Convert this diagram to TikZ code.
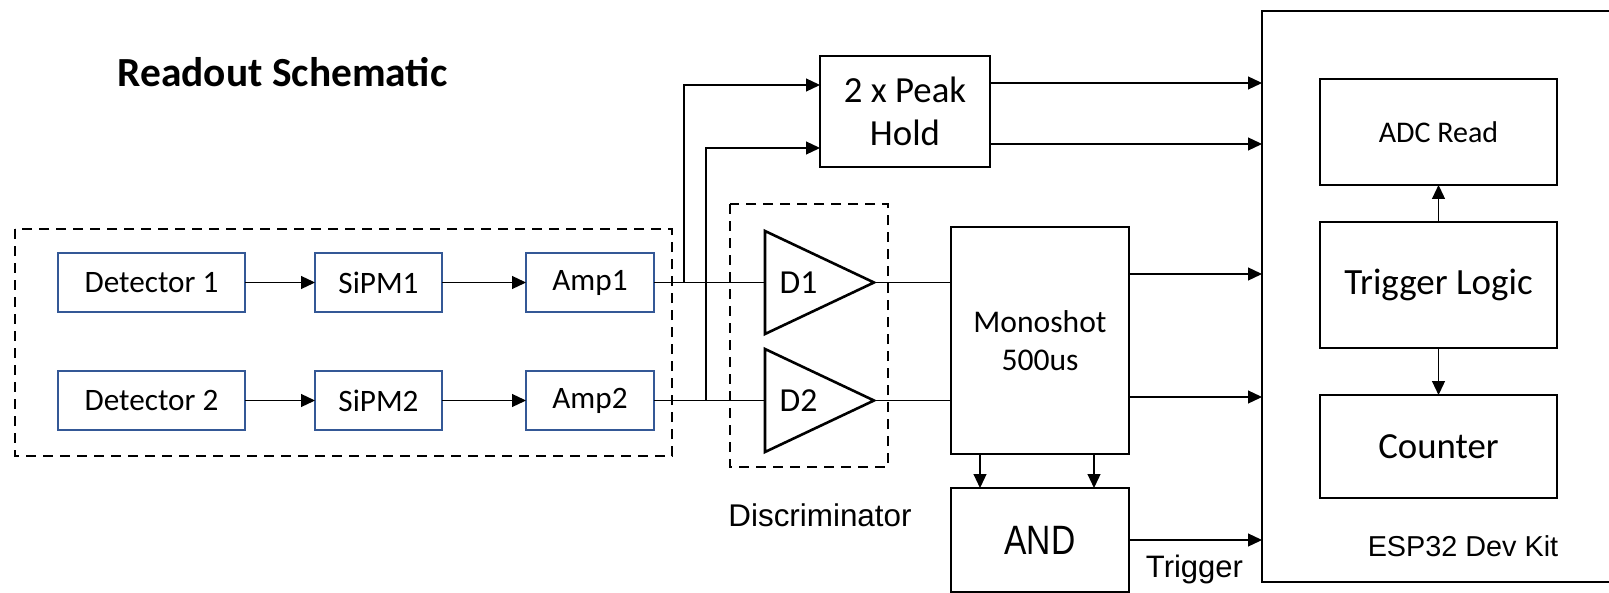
\documentclass[tikz,border=0pt]{standalone}
\usepackage{fontspec}
\setmainfont{Carlito}
\newfontfamily\arialfont{Liberation Sans}
\newfontfamily\narrowfont[FakeStretch=0.82]{Liberation Sans}
\usepackage{tikz}
\usetikzlibrary{arrows.meta,positioning}
\definecolor{boxblue}{RGB}{52,88,150}

\begin{document}
\begin{tikzpicture}[x=0.5pt, y=-0.5pt,
  chanbox/.style={draw=boxblue, line width=1pt, minimum height=29.5pt, inner sep=0pt, outer sep=0pt, font=\fontsize{15.6}{18}\selectfont},
  block/.style={draw, line width=1.3pt, inner sep=0pt, outer sep=0pt, align=center},
  groupbox/.style={draw, line width=1.3pt, dash pattern=on 5pt off 3.5pt},
  link/.style={line width=0.6pt},
  arrow/.style={-{Triangle[length=7pt, width=6.5pt]}, line width=0.6pt},
]
\useasboundingbox (0,0) rectangle (1609,593);

\node[anchor=base, font=\fontsize{20.7}{22}\selectfont\bfseries] (title) at (282.5,87) {Readout Schematic};

% detector chains
\node[chanbox, minimum width=93.5pt] (det1) at (151.5,282.5) {Detector 1};
\node[chanbox, minimum width=63.5pt, right=35pt of det1] (sipm1) {SiPM1};
\node[chanbox, minimum width=64pt, right=42pt of sipm1] (amp1) {Amp1};
\node[chanbox, minimum width=93.5pt, below=29.5pt of det1] (det2) {Detector 2};
\node[chanbox, minimum width=63.5pt, right=35pt of det2] (sipm2) {SiPM2};
\node[chanbox, minimum width=64pt, right=42pt of sipm2] (amp2) {Amp2};

\draw[arrow] (det1) -- (sipm1);
\draw[arrow] (sipm1) -- (amp1);
\draw[arrow] (det2) -- (sipm2);
\draw[arrow] (sipm2) -- (amp2);

\draw[groupbox] (15,229) rectangle (672,456);

% discriminators
\coordinate (d1in) at (765,282.5);
\coordinate (d1out) at (874,282.5);
\coordinate (d2in) at (765,400.5);
\coordinate (d2out) at (874,400.5);
\draw[line width=1.3pt, line join=miter] (765,231) -- (d1out) -- (765,334) -- cycle;
\draw[line width=1.3pt, line join=miter] (765,349) -- (d2out) -- (765,452) -- cycle;
\node[font=\fontsize{16.8}{19}\selectfont] (d1) at (798.5,282.5) {D1};
\node[font=\fontsize{16.8}{19}\selectfont] (d2) at (798.5,400.5) {D2};
\draw[groupbox] (730,204) rectangle (888,467);
\node[anchor=base, font=\arialfont\fontsize{15.7}{18}\selectfont] (disc) at (820,526) {Discriminator};

\draw[link] (amp1) -- (d1in);
\draw[link] (amp2) -- (d2in);

% peak hold
\node[block, minimum width=85pt, minimum height=55.5pt, font=\fontsize{18.4}{21.5}\selectfont] (peak) at (905,111.5) {2 x Peak\\Hold};
\draw[arrow] (amp1.east) -- ++(15pt,0) |- ([yshift=13.25pt]peak.west);
\draw[arrow] (amp2.east) -- ++(26pt,0) |- ([yshift=-18.25pt]peak.west);

% monoshot and coincidence
\node[block, minimum width=89pt, minimum height=113.5pt, font=\fontsize{15.8}{19}\selectfont] (mono) at (1040,340.5) {Monoshot\\500us};
\node[block, minimum width=89pt, minimum height=52pt, font=\narrowfont\fontsize{20.5}{22}\selectfont] (andg) at (1040,540) {AND};
\draw[link] (d1out) -- (d1out -| mono.west);
\draw[link] (d2out) -- (d2out -| mono.west);
\draw[arrow] ([xshift=-30pt]mono.south) -- ([xshift=-30pt]andg.north);
\draw[arrow] ([xshift=27pt]mono.south) -- ([xshift=27pt]andg.north);

% microcontroller
\node[block, minimum width=181.5pt, minimum height=285.5pt] (esp) at (1443.5,296.5) {};
\node[block, minimum width=118.5pt, minimum height=53pt, font=\fontsize{15}{18}\selectfont] (adc) at (1438.5,132) {ADC Read};
\node[block, minimum width=118.5pt, minimum height=63pt, font=\fontsize{18.5}{21}\selectfont] (trig) at (1438.5,285) {Trigger Logic};
\node[block, minimum width=118.5pt, minimum height=51.5pt, font=\fontsize{18.4}{21}\selectfont] (count) at (1438.5,446.5) {Counter};
\node[anchor=base, font=\arialfont\fontsize{14.4}{17}\selectfont] (esplabel) at (1463,556) {ESP32 Dev Kit};
\draw[arrow] (trig) -- (adc);
\draw[arrow] (trig) -- (count);

\draw[arrow] ([yshift=14.25pt]peak.east) coordinate (p1) -- (p1 -| esp.west);
\draw[arrow] ([yshift=-16.25pt]peak.east) coordinate (p2) -- (p2 -| esp.west);
\draw[arrow] ([yshift=33.25pt]mono.east) coordinate (m1) -- (m1 -| esp.west);
\draw[arrow] ([yshift=-28.25pt]mono.east) coordinate (m2) -- (m2 -| esp.west);
\draw[arrow] (andg.east) -- (andg.east -| esp.west);
\node[anchor=base, font=\arialfont\fontsize{15.5}{18}\selectfont] (triglabel) at (1194.5,577) {Trigger};

\end{tikzpicture}
\end{document}
